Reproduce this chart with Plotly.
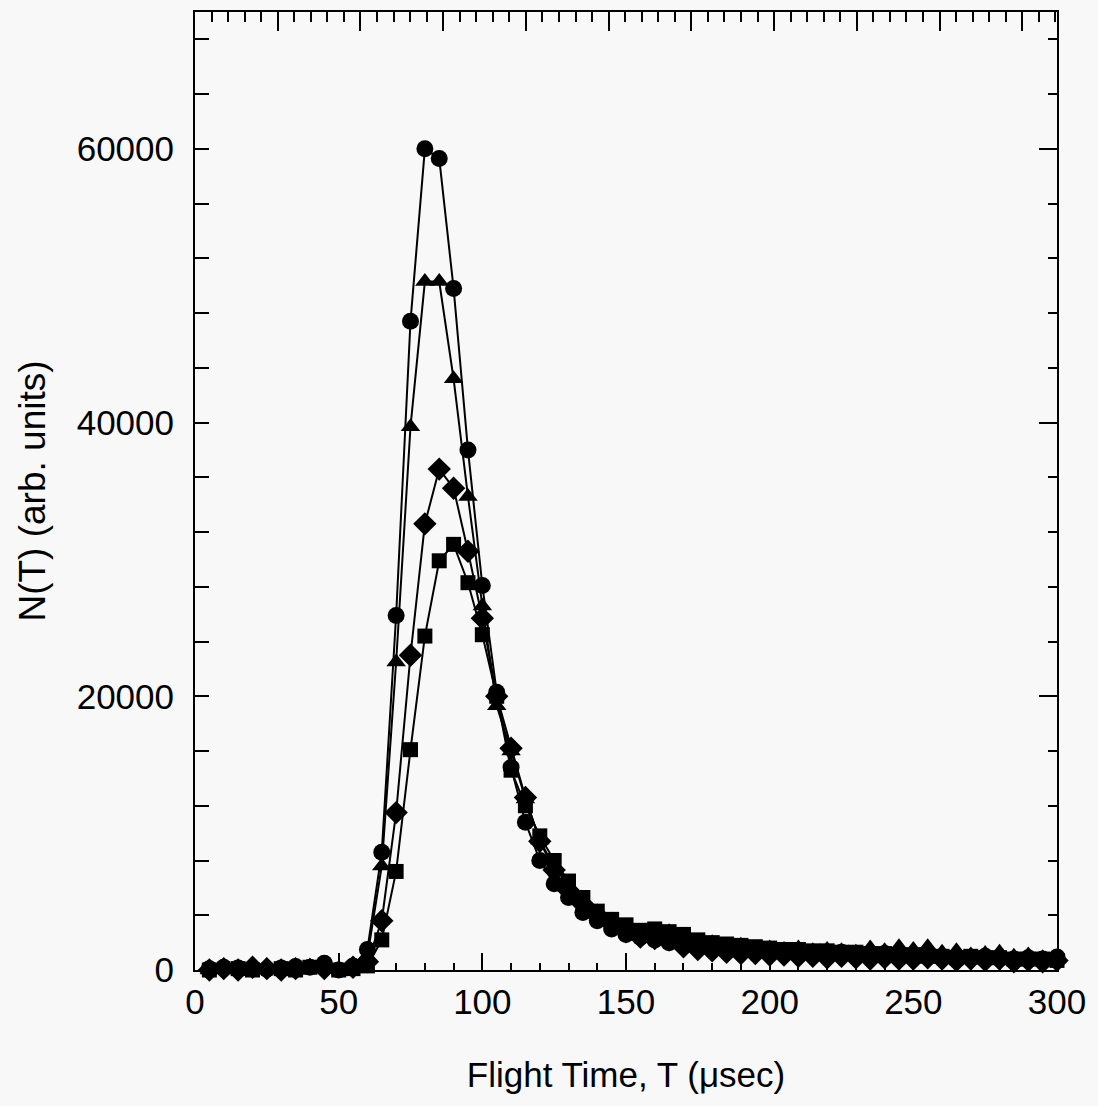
import plotly.graph_objects as go

# Flight time grid (microseconds)
t_usec = list(range(5, 301, 5))

# N(T) for the four measured runs (arbitrary units)
n_circle = [100, 200, 150, 100, 50, 150, 250, 200, 500, 0,
            300, 1500, 8600, 25900, 47400, 60000, 59300, 49800, 38000, 28100,
            20300, 14800, 10800, 8000, 6300, 5300, 4200, 3600, 3000, 2600,
            2400, 2200, 2000, 2000, 1800, 1700, 1600, 1500, 1500, 1400,
            1400, 1300, 1300, 1200, 1300, 1200, 1100, 1200, 1100, 1000,
            1100, 900, 1000, 900, 1000, 900, 800, 900, 800, 950]

n_triangle = [0, 100, 200, 100, 300, 100, 200, 300, 200, 100,
              200, 1000, 7600, 22500, 39700, 50300, 50300, 43200, 34600, 26600,
              19300, 16000, 12500, 9500, 7500, 6200, 5000, 4100, 3500, 3100,
              2800, 2500, 2800, 2100, 1900, 2000, 1700, 1800, 1600, 1600,
              1500, 1600, 1400, 1500, 1400, 1300, 1600, 1400, 1700, 1500,
              1700, 1300, 1400, 1100, 1200, 1300, 1000, 1100, 900, 800]

n_diamond = [0, 100, 0, 200, 100, 0, 100, -300, 100, -200,
             200, 600, 3600, 11500, 23000, 32600, 36600, 35200, 30600, 25700,
             20000, 16200, 12600, 9400, 7300, 5800, 4800, 4000, 3400, 2800,
             2400, 2300, 2200, 1700, 1500, 1400, 1300, 1200, 1200, 1100,
             1100, 1000, 1000, 900, 1000, 900, 800, 900, 800, 800,
             900, 800, 700, 800, 700, 800, 600, 700, 600, 700]

n_square = [0, -100, 100, 0, -200, 100, 0, 200, -100, 0,
            100, 300, 2200, 7200, 16100, 24400, 29900, 31100, 28300, 24500,
            20000, 14600, 12000, 9800, 8000, 6500, 5300, 4300, 3700, 3300,
            2900, 3000, 2800, 2600, 2200, 2000, 1900, 1800, 1700, 1600,
            1500, 1500, 1400, 1400, 1300, 1300, 1200, 1200, 1100, 1100,
            1000, 1000, 900, 1000, 900, 900, 800, 800, 800, 700]

x_ticks = [0, 50, 100, 150, 200, 250, 300]
y_ticks = [0, 20000, 40000, 60000]

FONT = "Liberation Sans, Arial, sans-serif"
BG = "#f8f8f8"

series = [
    (n_square, "square", 15),
    (n_diamond, "diamond", 18),
    (n_triangle, "triangle-up", 17),
    (n_circle, "circle", 17),
]

fig = go.Figure()
for values, symbol, size in series:
    fig.add_trace(go.Scatter(
        x=t_usec, y=values, mode="lines+markers",
        line=dict(color="black", width=2),
        marker=dict(symbol=symbol, size=size, color="black",
                    line=dict(color="black", width=0)),
        showlegend=False, cliponaxis=False,
    ))

# empty traces that register the extra tick axes of the frame
for xa, ya in [("x2", "y"), ("x3", "y"), ("x4", "y"), ("x", "y2"), ("x", "y3")]:
    fig.add_trace(go.Scatter(x=[], y=[], xaxis=xa, yaxis=ya,
                             showlegend=False, hoverinfo="skip"))

line_style = dict(showline=True, linewidth=2, linecolor="black",
                  showgrid=False, zeroline=False)


def tick_axis(length, **kw):
    # unlabelled axis used only for a row of inside ticks
    return dict(ticks="inside", ticklen=length, tickwidth=2,
                tickcolor="black", showticklabels=False, **line_style, **kw)


fig.update_layout(
    width=1098, height=1106,
    margin=dict(l=195, r=36, t=12, b=136),
    paper_bgcolor=BG, plot_bgcolor=BG,
    font=dict(family=FONT, color="black", size=35),
    showlegend=False,
    xaxis=dict(
        anchor="y", side="bottom",
        range=[0, 300], tickvals=x_ticks,
        ticktext=[str(v) for v in x_ticks],
        ticks="inside", ticklen=17, tickwidth=2, tickcolor="black",
        **line_style,
        tickfont=dict(size=35),
        title=dict(text="Flight Time, T (\u03bcsec)", font=dict(size=35),
                   standoff=42),
    ),
    # bottom minor ticks every 10 usec
    xaxis3=tick_axis(7, overlaying="x", side="bottom", anchor="y",
                     range=[0, 300], tick0=0, dtick=10),
    # top frame ticks
    xaxis2=tick_axis(19, overlaying="x", side="top", anchor="y",
                     range=[0, 10.42], tick0=0, dtick=1),
    xaxis4=tick_axis(10, overlaying="x", side="top", anchor="y",
                     range=[0, 10.42], tick0=0, dtick=0.2),
    yaxis=dict(
        anchor="x", side="left",
        range=[0, 70000], tickvals=y_ticks,
        ticktext=[str(v) for v in y_ticks],
        ticks="inside", ticklen=14, tickwidth=2, tickcolor="black",
        minor=dict(dtick=4000, ticks="inside", ticklen=14, tickwidth=2,
                   tickcolor="black", showgrid=False),
        **line_style,
        tickfont=dict(size=35), ticklabelstandoff=12,
        title=dict(text="N(T) (arb. units)", font=dict(size=37),
                   standoff=20),
    ),
    # right frame ticks
    yaxis2=tick_axis(18, overlaying="y", side="right", anchor="x",
                     range=[0, 70000], tick0=0, dtick=20000),
    yaxis3=tick_axis(9, overlaying="y", side="right", anchor="x",
                     range=[0, 70000], tick0=0, dtick=4000),
)

fig.write_html("out.html")
